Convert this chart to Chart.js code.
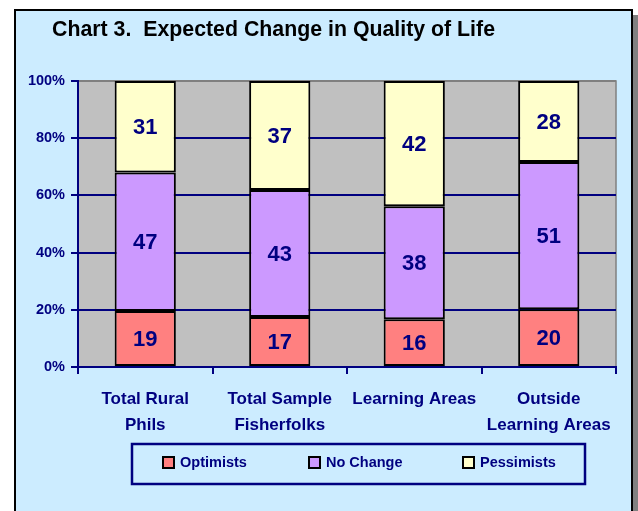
<!DOCTYPE html>
<html>
<head>
<meta charset="utf-8">
<script src="https://cdn.jsdelivr.net/npm/chart.js@4"></script>
<style>
	html, body { margin: 0; padding: 0; background: #ffffff; }
	#wrap { width: 638px; height: 511px; position: relative; }
</style>
</head>
<body>
<div id="wrap"><canvas id="chart" width="638" height="511"></canvas></div>
<script>
const titleText = "Chart 3.  Expected Change in Quality of Life";
const categories = [
	["Total Rural", "Phils"],
	["Total Sample", "Fisherfolks"],
	["Learning Areas"],
	["Outside", "Learning Areas"],
];
const optimists = [19, 17, 16, 20];
const noChange = [47, 43, 38, 51];
const pessimists = [31, 37, 42, 28];
const yTicks = [0, 20, 40, 60, 80, 100];

const FONT = "'Liberation Sans', Arial, sans-serif";
const NAVY = "#000080";

// 100% stacked: share of each row total
const totals = optimists.map((v, i) => v + noChange[i] + pessimists[i]);
const share = (arr) => arr.map((v, i) => (v / totals[i]) * 100);

const frame = {
	id: "frame",
	beforeDraw(chart) {
		const ctx = chart.ctx;
		const a = chart.chartArea;
		ctx.save();
		ctx.fillStyle = "#ffffff";
		ctx.fillRect(0, 0, 638, 511);
		ctx.fillStyle = "#808080";
		ctx.fillRect(632, 15, 6, 496);
		ctx.fillStyle = "#CCECFF";
		ctx.fillRect(15, 10, 617, 501);
		ctx.strokeStyle = "#000000";
		ctx.lineWidth = 2;
		ctx.beginPath();
		ctx.moveTo(15, 511);
		ctx.lineTo(15, 10);
		ctx.lineTo(632, 10);
		ctx.lineTo(632, 511);
		ctx.stroke();
		// plot area
		ctx.fillStyle = "#C0C0C0";
		ctx.fillRect(a.left, a.top, a.right - a.left, a.bottom - a.top);
		ctx.strokeStyle = "#808080";
		ctx.lineWidth = 1.5;
		ctx.strokeRect(a.left, a.top, a.right - a.left, a.bottom - a.top);
		// title
		ctx.fillStyle = "#000000";
		ctx.font = "bold 22px " + FONT;
		ctx.textBaseline = "middle";
		ctx.textAlign = "left";
		ctx.fillText(titleText, 52, 30, 443);
		ctx.restore();
	},
	afterDraw(chart) {
		const ctx = chart.ctx;
		ctx.save();
		// value labels
		ctx.fillStyle = NAVY;
		ctx.font = "bold 22px " + FONT;
		ctx.textAlign = "center";
		ctx.textBaseline = "middle";
		chart.data.datasets.forEach((ds, di) => {
			chart.getDatasetMeta(di).data.forEach((el, i) => {
				ctx.fillText(String(ds.counts[i]), el.x, (el.y + el.base) / 2 + 1);
			});
		});
		// legend
		ctx.strokeStyle = NAVY;
		ctx.lineWidth = 2.5;
		ctx.strokeRect(132, 444, 453, 40);
		const xs = [163, 309, 463];
		ctx.font = "bold 14.5px " + FONT;
		ctx.textAlign = "left";
		chart.data.datasets.forEach((ds, di) => {
			ctx.fillStyle = ds.backgroundColor;
			ctx.fillRect(xs[di], 457, 11, 11);
			ctx.strokeStyle = "#000000";
			ctx.lineWidth = 2;
			ctx.strokeRect(xs[di], 457, 11, 11);
			ctx.fillStyle = NAVY;
			ctx.fillText(ds.label, xs[di] + 17, 463);
		});
		ctx.restore();
	},
};

const barStyle = {
	borderColor: "#000000",
	borderWidth: 2,
	borderSkipped: false,
	barPercentage: 0.455,
	categoryPercentage: 1,
};

new Chart(document.getElementById("chart"), {
	type: "bar",
	plugins: [frame],
	data: {
		labels: categories,
		datasets: [
			{ label: "Optimists", data: share(optimists), counts: optimists, backgroundColor: "#FF8080", ...barStyle },
			{ label: "No Change", data: share(noChange), counts: noChange, backgroundColor: "#CC99FF", ...barStyle },
			{ label: "Pessimists", data: share(pessimists), counts: pessimists, backgroundColor: "#FFFFCC", ...barStyle },
		],
	},
	options: {
		responsive: false,
		animation: false,
		layout: { padding: { left: 16, top: 81, right: 22, bottom: 0 } },
		plugins: {
			legend: { display: false },
			tooltip: { enabled: false },
			title: { display: false },
		},
		scales: {
			x: {
				stacked: true,
				afterFit: (scale) => { scale.height = 144; },
				border: { color: NAVY, width: 2 },
				grid: {
					offset: true,
					drawOnChartArea: false,
					drawTicks: true,
					tickLength: 7,
					color: NAVY,
					lineWidth: 2,
				},
				ticks: {
					color: NAVY,
					padding: 12,
					maxRotation: 0,
					autoSkip: false,
					font: { family: FONT, size: 17, weight: "bold", lineHeight: 1.55 },
				},
			},
			y: {
				stacked: true,
				min: 0,
				max: 100,
				afterFit: (scale) => { scale.width = 62; },
				afterBuildTicks: (scale) => { scale.ticks = yTicks.map((v) => ({ value: v })); },
				border: { color: NAVY, width: 2 },
				grid: {
					color: (c) => (c.tick && c.tick.value === 100 ? "#808080" : NAVY),
					lineWidth: 2,
					tickLength: 7,
					tickColor: NAVY,
				},
				ticks: {
					color: NAVY,
					padding: 6,
					font: { family: FONT, size: 14.5, weight: "bold" },
					callback: (v) => v + "%",
				},
			},
		},
	},
});
</script>
</body>
</html>
